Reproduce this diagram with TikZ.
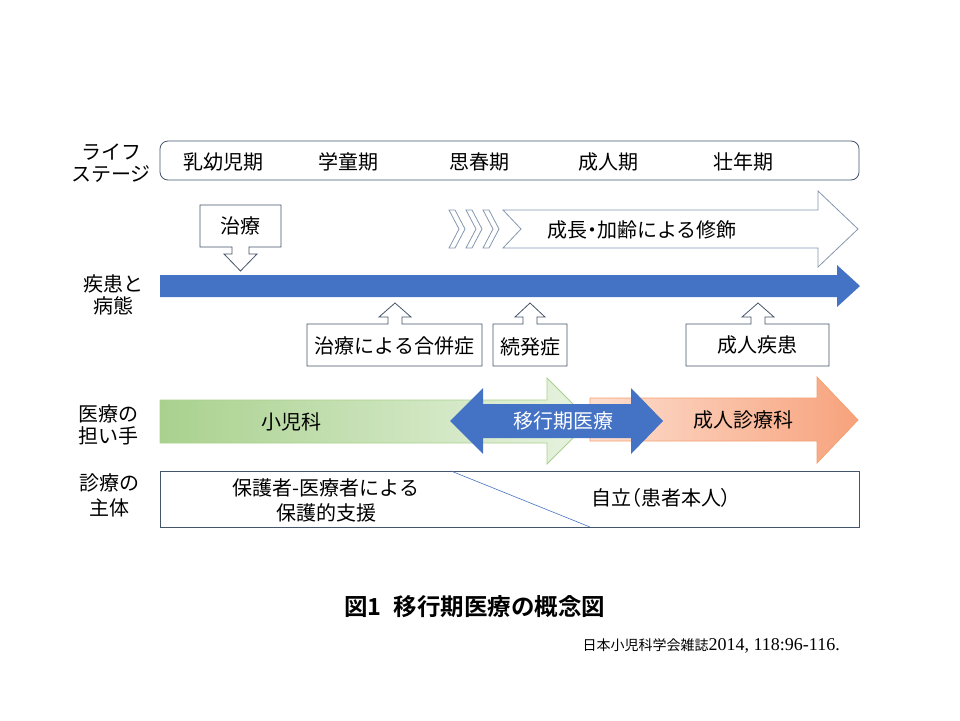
\documentclass[tikz,border=0pt]{standalone}
\usepackage{fontspec}
\setmainfont{Noto Sans CJK JP}[BoldFont={Noto Sans CJK JP Bold}]
\newfontfamily\citeserif{Liberation Serif}
\newcommand{\tightglyph}[1]{{\addfontfeatures{RawFeature=+palt}#1}}
\usetikzlibrary{positioning}

\definecolor{barblue}{HTML}{4472C4}
\definecolor{frameline}{HTML}{44546A}
\definecolor{paleline}{HTML}{8497B0}
\definecolor{greenL}{HTML}{A9D18E}
\definecolor{greenR}{HTML}{E8F3E1}
\definecolor{greenline}{HTML}{A9D18E}
\definecolor{orangeL}{HTML}{FDDECF}
\definecolor{orangeR}{HTML}{F7A27C}
\definecolor{orangeline}{HTML}{F4A070}

\begin{document}
\begin{tikzpicture}[
    x = 1pt, y = -1pt,
    every node/.style = {font=\fontsize{20}{22}\selectfont, inner sep=0pt},
    rowlabel/.style = {align=center},
    frame/.style = {
        draw=frameline,
        line width=0.8pt
    },
    callout/.style = {
        draw=frameline,
        line width=0.8pt,
        fill=white
    },
    hollowarrow/.style = {
        draw=paleline,
        line width=0.8pt,
        fill=white
    }
]
\useasboundingbox (0,0) rectangle (960,720);

% row labels
\node[rowlabel] (lifelbl) at (111,163) {ライフ\\ステージ};
\node[rowlabel] (diseaselbl) at (113,295) {疾患と\\病態};
\node[rowlabel] (carelbl) at (108,425) {医療の\\担い手};
\node[rowlabel, font=\fontsize{20}{25}\selectfont] (subjectlbl) at (109,495) {診療の\\主体};

% life stages
\draw[frame, rounded corners=8pt] (160,141) rectangle (859,180);
\node (infancy) at (223,162) {乳幼児期};
\node (school) at (348,162) {学童期};
\node (puberty) at (479,162) {思春期};
\node (adult) at (608,162) {成人期};
\node (prime) at (743,162) {壮年期};

% treatment callout
\draw[callout] (200,205) -- (281,205) -- (281,247) -- (249,247) -- (249,254) -- (257,254)
    -- (240.5,271) -- (224,254) -- (232,254) -- (232,247) -- (200,247) -- cycle;
\node (cure) at (240.5,226) {治療};

% growth and ageing
\foreach \cx in {449,466,483}
    \draw[hollowarrow] (\cx,210) -- (\cx+6,210) -- (\cx+16,229) -- (\cx+6,248) -- (\cx,248) -- (\cx+10,229) -- cycle;
\draw[hollowarrow] (503,210) -- (818,210) -- (818,191) -- (858,229) -- (818,267) -- (818,248)
    -- (503,248) -- (521,229) -- cycle;
\node (aging) at (642,230) {成長\tightglyph{・}加齢による修飾};

% disease course
\fill[barblue] (160,275) -- (837,275) -- (837,265) -- (860,286) -- (837,307) -- (837,297) -- (160,297) -- cycle;

% complications
\draw[callout] (307,324) -- (388,324) -- (388,317) -- (379,317) -- (395,303) -- (411,317) -- (402,317)
    -- (402,324) -- (482,324) -- (482,366) -- (307,366) -- cycle;
\node (comp) at (394.5,346) {治療による合併症};
\draw[callout] (493,324) -- (523,324) -- (523,317) -- (515,317) -- (530,303) -- (545,317) -- (537,317)
    -- (537,324) -- (567,324) -- (567,366) -- (493,366) -- cycle;
\node (secondary) at (530,347) {続発症};
\draw[callout] (686,324) -- (751,324) -- (751,317) -- (742,317) -- (758,303) -- (774,317) -- (765,317)
    -- (765,324) -- (829,324) -- (829,366) -- (686,366) -- cycle;
\node (adultdis) at (757.5,345) {成人疾患};

% care providers
\draw[draw=greenline, line width=0.8pt, left color=greenL, right color=greenR]
    (160,400) -- (547,400) -- (547,378) -- (590,421) -- (547,464) -- (547,443) -- (160,443) -- cycle;
\draw[draw=orangeline, line width=0.8pt, left color=orangeL, right color=orangeR]
    (590,398) -- (817,398) -- (817,377) -- (858,420) -- (817,463) -- (817,441) -- (590,441) -- cycle;
\fill[barblue] (450,421) -- (483,388) -- (483,404) -- (631,404) -- (631,388) -- (663,421) -- (631,454)
    -- (631,438) -- (483,438) -- (483,454) -- cycle;
\node (peds) at (291,422) {小児科};
\node (adultcare) at (743,420) {成人診療科};
\node[text=white] (transition) at (563,421) {移行期医療};

% subject of care
\draw[frame] (160,471) rectangle (859,527);
\coordinate (splitT) at (451,471);
\coordinate (splitB) at (590,527);
\draw[barblue, line width=0.6pt] (splitT) -- (splitB);
\node[rowlabel, font=\fontsize{20}{25}\selectfont] (guardian) at (326,500) {保護者-医療者による\\保護的支援};
\node (self) at (661,498) {自立\tightglyph{（}患者本人\tightglyph{）}};

% caption
\node[anchor=west, font=\fontsize{23.5}{26}\selectfont\bfseries] (title) at (344,607) {図1\hspace{12pt}移行期医療の概念図};
\node[anchor=east, font=\fontsize{14}{16}\selectfont] (source) at (840,646) {日本小児科学会雑誌{\citeserif\fontsize{18}{20}\selectfont 2014, 118:96-116.}};
\end{tikzpicture}
\end{document}
